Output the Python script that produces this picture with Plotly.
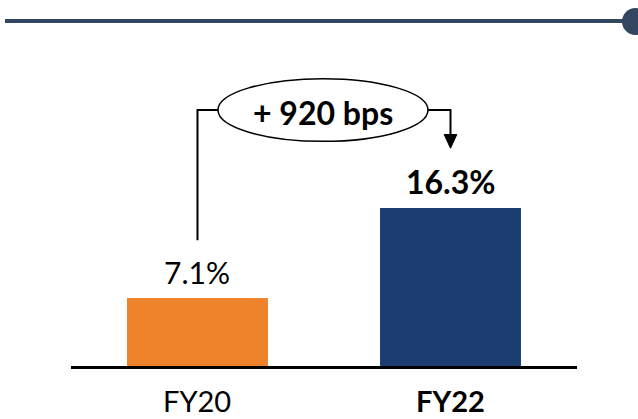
import plotly.graph_objects as go

# data
categories = ["FY20", "FY22"]
margins = [7.1, 16.3]
labels = ["7.1%", "16.3%"]
change_label = "+ 920 bps"

bar_colors = ["#EE832C", "#1A3C6F"]
bold = [False, True]

W, H = 638, 419
FONT = "Lato, Open Sans, sans-serif"

fig = go.Figure()

fig.add_trace(go.Bar(
    x=[0, 1],
    y=margins,
    width=0.557,
    marker=dict(color=bar_colors, line=dict(width=0)),
    hoverinfo="skip",
))

def b(txt, on):
    return f"<b>{txt}</b>" if on else txt

# value labels above bars
for i, (v, t) in enumerate(zip(margins, labels)):
    fig.add_annotation(x=i, y=v, text=b(t, bold[i]), showarrow=False,
                       yanchor="middle", yshift=26,
                       font=dict(family=FONT, size=32 if bold[i] else 30, color="black"))

# category labels under the baseline
for i, c in enumerate(categories):
    fig.add_annotation(x=i, y=0, text=b(c, bold[i]), showarrow=False,
                       yanchor="middle", yshift=-32, height=30,
                       font=dict(family=FONT, size=29, color="black"))

# baseline
fig.add_shape(type="line", x0=-0.5, x1=1.5, y0=0, y1=0,
              line=dict(color="black", width=3))

# bracket with ellipse
bracket_y = 26.3
ell_x0, ell_x1 = 0.081, 0.911
ell_h = 3.2
line_style = dict(color="black", width=2)
fig.add_shape(type="path",
              path=f"M 0,{margins[0] + 5.9} L 0,{bracket_y} L {ell_x0},{bracket_y}",
              line=line_style)
fig.add_shape(type="path",
              path=f"M {ell_x1},{bracket_y} L 1,{bracket_y} L 1,{margins[1] + 7.4}",
              line=line_style)
fig.add_shape(type="path",
              path=f"M 0.975,{margins[1] + 7.5} L 1.025,{margins[1] + 7.5} L 1,{margins[1] + 6.1} Z",
              fillcolor="black", line=dict(color="black", width=1))
fig.add_shape(type="circle", x0=ell_x0, x1=ell_x1,
              y0=bracket_y - ell_h, y1=bracket_y + ell_h,
              fillcolor="white", line=dict(color="black", width=1.5))
fig.add_annotation(x=(ell_x0 + ell_x1) / 2, y=bracket_y, text=f"<b>{change_label}</b>",
                   showarrow=False, yanchor="middle", yshift=-2,
                   font=dict(family=FONT, size=32, color="black"))

# top rule with dot
rule_y = 1 - 21 / H
fig.add_shape(type="line", xref="paper", yref="paper",
              x0=5 / W, x1=625 / W, y0=rule_y, y1=rule_y,
              line=dict(color="#344560", width=4))
fig.add_shape(type="circle", xref="paper", yref="paper",
              x0=622 / W, x1=649 / W, y0=1 - 35 / H, y1=1 - 8 / H,
              fillcolor="#344560", line=dict(width=0))

fig.update_layout(
    width=W, height=H,
    margin=dict(l=0, r=0, t=0, b=0),
    paper_bgcolor="white", plot_bgcolor="white",
    showlegend=False,
    xaxis=dict(range=[-0.7806, 1.7411], visible=False, fixedrange=True),
    yaxis=dict(range=[-5.26, 37.54], visible=False, fixedrange=True),
)

fig.write_html("out.html", config={"displayModeBar": False},
               post_script="document.body.style.margin='0';document.body.style.overflow='hidden';")
